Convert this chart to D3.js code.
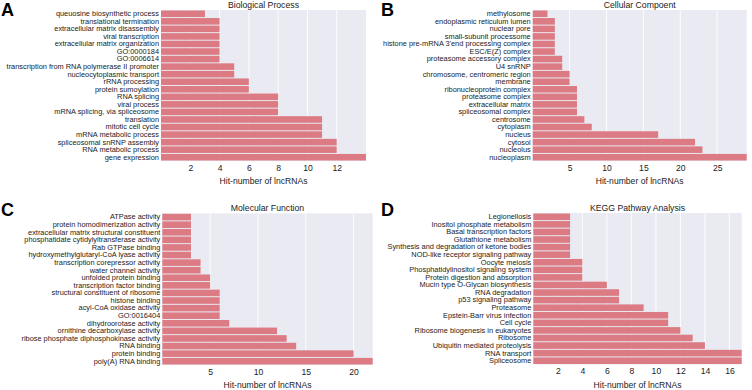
<!DOCTYPE html>
<html lang="en">
<head>
<meta charset="UTF-8">
<title>GO / KEGG enrichment of lncRNAs</title>
<script src="https://d3js.org/d3.v7.min.js"></script>
<style>
  body { margin: 0; background: #fff; }
  svg text { font-family: "Liberation Sans", Arial, sans-serif; fill: #222; }
  .term { font-size: 7.4px; }
  .tick-label { font-size: 8.6px; }
  .ptitle { font-size: 8.7px; }
  .xtitle { font-size: 8.6px; }
  .letter { font-size: 18px; font-weight: bold; fill: #000; }
</style>
</head>
<body>
<div id="chart"></div>
<script>
// Biological Process
const bpTerms = ["queuosine biosynthetic process", "translational termination", "extracellular matrix disassembly",
  "viral transcription", "extracellular matrix organization", "GO:0000184", "GO:0006614",
  "transcription from RNA polymerase II promoter", "nucleocytoplasmic transport", "rRNA processing",
  "protein sumoylation", "RNA splicing", "viral process", "mRNA splicing, via spliceosome", "translation",
  "mitotic cell cycle", "mRNA metabolic process", "spliceosomal snRNP assembly", "RNA metabolic process",
  "gene expression"];
const bpCounts = [3, 4, 4, 4, 4, 4, 4, 5, 5, 6, 6, 8, 8, 8, 11, 11, 11, 12, 12, 14];
const bpTicks = [2, 4, 6, 8, 10, 12];

// Cellular Component
const ccTerms = ["methylosome", "endoplasmic reticulum lumen", "nuclear pore", "small-subunit processome",
  "histone pre-mRNA 3'end processing complex", "ESC/E(Z) complex", "proteasome accessory complex", "U4 snRNP",
  "chromosome, centromeric region", "membrane", "ribonucleoprotein complex", "proteasome complex",
  "extracellular matrix", "spliceosomal complex", "centrosome", "cytoplasm", "nucleus", "cytosol",
  "nucleolus", "nucleoplasm"];
const ccCounts = [2, 3, 3, 3, 3, 3, 4, 4, 5, 5, 6, 6, 6, 6, 7, 8, 17, 22, 23, 29];
const ccTicks = [5, 10, 15, 20, 25];

// Molecular Function
const mfTerms = ["ATPase activity", "protein homodimerization activity", "extracellular matrix structural constituent",
  "phosphatidate cytidylyltransferase activity", "Rab GTPase binding", "hydroxymethylglutaryl-CoA lyase activity",
  "transcription corepressor activity", "water channel activity", "unfolded protein binding",
  "transcription factor binding", "structural constituent of ribosome", "histone binding",
  "acyl-CoA oxidase activity", "GO:0016404", "dihydroorotase activity", "ornithine decarboxylase activity",
  "ribose phosphate diphosphokinase activity", "RNA binding", "protein binding", "poly(A) RNA binding"];
const mfCounts = [3, 3, 3, 3, 3, 3, 4, 4, 5, 5, 6, 6, 6, 6, 7, 12, 13, 14, 20, 22];
const mfTicks = [5, 10, 15, 20];

// KEGG
const keggTerms = ["Legionellosis", "Inositol phosphate metabolism", "Basal transcription factors",
  "Glutathione metabolism", "Synthesis and degradation of ketone bodies", "NOD-like receptor signaling pathway",
  "Oocyte meiosis", "Phosphatidylinositol signaling system", "Protein digestion and absorption",
  "Mucin type O-Glycan biosynthesis", "RNA degradation", "p53 signaling pathway", "Proteasome",
  "Epstein-Barr virus infection", "Cell cycle", "Ribosome biogenesis in eukaryotes", "Ribosome",
  "Ubiquitin mediated proteolysis", "RNA transport", "Spliceosome"];
const keggCounts = [3, 3, 3, 3, 3, 3, 4, 4, 4, 6, 7, 7, 9, 11, 11, 12, 13, 14, 17, 17];
const keggTicks = [2, 4, 6, 8, 10, 12, 14, 16];

const xLabel = "Hit-number of lncRNAs";

const svg = d3.select("#chart").append("svg")
  .attr("width", 752).attr("height", 390);

function panel(cfg) {
  const { letter, title, terms, counts, ticks, x0, x1, y0, y1, lx, ly } = cfg;
  const g = svg.append("g");

  const x = d3.scaleLinear().domain([0, d3.max(counts)]).range([x0, x1]);
  const y = d3.scaleBand().domain(terms).range([y0, y1]).paddingInner(0.13).paddingOuter(0.065);

  // grey background
  g.append("rect")
    .attr("x", x0).attr("y", y0)
    .attr("width", x1 - x0).attr("height", y1 - y0)
    .attr("fill", "#eaeaf2");

  // white grid lines
  g.selectAll("line.grid").data(ticks).join("line")
    .attr("class", "grid")
    .attr("x1", d => x(d)).attr("x2", d => x(d))
    .attr("y1", y0).attr("y2", y1)
    .attr("stroke", "#fff").attr("stroke-width", 0.9);

  g.selectAll("rect.bar").data(terms).join("rect")
    .attr("class", "bar")
    .attr("x", x(0))
    .attr("y", d => y(d))
    .attr("width", (d, i) => x(counts[i]) - x(0))
    .attr("height", y.bandwidth())
    .attr("fill", "#dc7b83");

  // category labels
  const yAxis = g.append("g")
    .attr("transform", `translate(${x0},0)`)
    .call(d3.axisLeft(y).tickSize(0).tickPadding(2));
  yAxis.select(".domain").remove();
  yAxis.selectAll("text").attr("class", "term").attr("font-size", null).attr("font-family", null);

  // x ticks
  const xAxis = g.append("g")
    .attr("transform", `translate(0,${y1})`)
    .call(d3.axisBottom(x).tickValues(ticks).tickSize(0).tickPadding(3.5));
  xAxis.select(".domain").remove();
  xAxis.selectAll("text").attr("class", "tick-label").attr("font-size", null).attr("font-family", null);

  g.append("text")
    .attr("class", "xtitle")
    .attr("x", (x0 + x1) / 2).attr("y", y1 + 23)
    .attr("text-anchor", "middle")
    .text(xLabel);

  g.append("text")
    .attr("class", "ptitle")
    .attr("x", (x0 + x1) / 2).attr("y", y0 - 2)
    .attr("text-anchor", "middle")
    .text(title);

  g.append("text")
    .attr("class", "letter")
    .attr("x", lx).attr("y", ly)
    .text(letter);
}

panel({ letter: "A", title: "Biological Process", terms: bpTerms, counts: bpCounts, ticks: bpTicks,
  x0: 161, x1: 366, y0: 10, y1: 161, lx: 1, ly: 16 });
panel({ letter: "B", title: "Cellular Compoent", terms: ccTerms, counts: ccCounts, ticks: ccTicks,
  x0: 532.7, x1: 746.7, y0: 10, y1: 161, lx: 381, ly: 16 });
panel({ letter: "C", title: "Molecular Function", terms: mfTerms, counts: mfCounts, ticks: mfTicks,
  x0: 162.3, x1: 372.7, y0: 213.3, y1: 365, lx: 1, ly: 216 });
panel({ letter: "D", title: "KEGG Pathway Analysis", terms: keggTerms, counts: keggCounts, ticks: keggTicks,
  x0: 533.3, x1: 741.7, y0: 213, y1: 364.5, lx: 381, ly: 216 });
</script>
</body>
</html>
